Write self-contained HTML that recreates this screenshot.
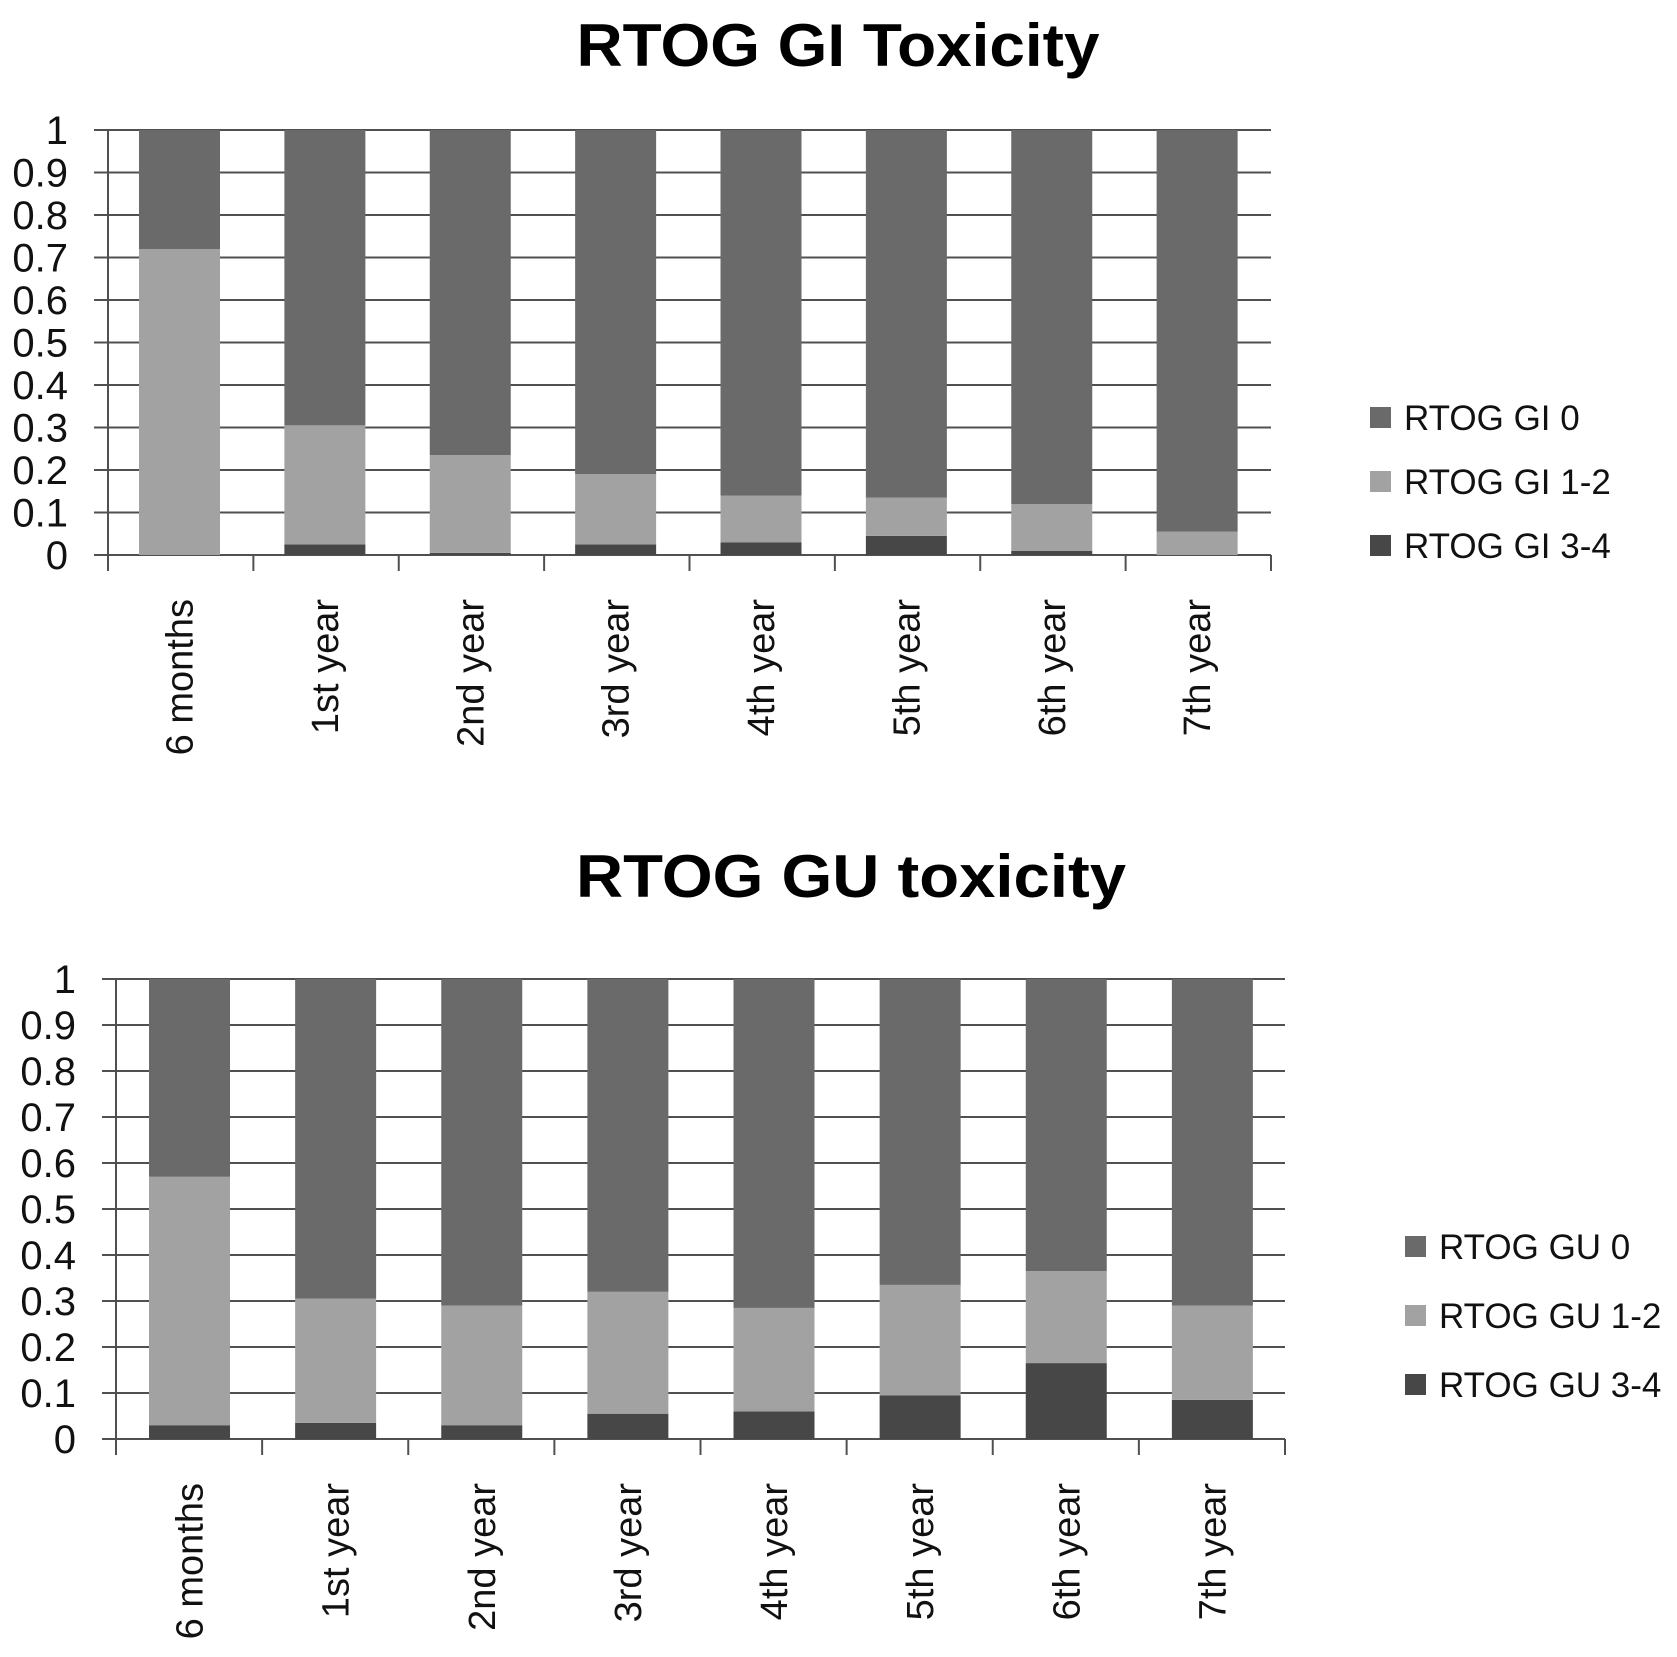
<!DOCTYPE html>
<html><head><meta charset="utf-8"><style>
body{margin:0;background:#fff;}
svg{display:block;font-family:"Liberation Sans",sans-serif;}
</style></head><body>
<svg id="svg" width="1677" height="1657" viewBox="0 0 1677 1657">
<text x="838" y="66" text-anchor="middle" font-size="60" font-weight="bold" textLength="523" lengthAdjust="spacingAndGlyphs">RTOG GI Toxicity</text>
<text x="851" y="897" text-anchor="middle" font-size="60" font-weight="bold" textLength="550" lengthAdjust="spacingAndGlyphs">RTOG GU toxicity</text>
</svg>
<script>
const categories = ["6 months","1st year","2nd year","3rd year","4th year","5th year","6th year","7th year"];
const yTicks = [0,0.1,0.2,0.3,0.4,0.5,0.6,0.7,0.8,0.9,1];
const yTickLabels = ["0","0.1","0.2","0.3","0.4","0.5","0.6","0.7","0.8","0.9","1"];
const gi34 = [0,0.025,0.005,0.025,0.03,0.045,0.01,0];
const gi12 = [0.72,0.28,0.23,0.165,0.11,0.09,0.11,0.055];
const gu34 = [0.03,0.035,0.03,0.055,0.06,0.095,0.165,0.085];
const gu12 = [0.54,0.27,0.26,0.265,0.225,0.24,0.2,0.205];
const giNames = ["RTOG GI 0","RTOG GI 1-2","RTOG GI 3-4"];
const guNames = ["RTOG GU 0","RTOG GU 1-2","RTOG GU 3-4"];

const NS="http://www.w3.org/2000/svg";
const svg=document.getElementById('svg');
const C0="#6a6a6a",C12="#a2a2a2",C34="#474747",GRID="#505050";
function mk(tag,attrs,parent){const e=document.createElementNS(NS,tag);for(const k in attrs)e.setAttribute(k,attrs[k]);(parent||svg).appendChild(e);return e;}

function drawChart(cfg,s34,s12,names,prefix){
  const g=mk('g',{});
  
  
  const step=(cfg.right-cfg.left)/categories.length;
  const y=v=>cfg.zero-(cfg.zero-cfg.top)*v;
  const x=i=>cfg.left+i*step;
  yTicks.forEach((t,i)=>{
    const l=mk('line',{x1:cfg.left-14,x2:cfg.right,y1:y(t),y2:y(t),stroke:GRID,'stroke-width':2},g);
    
    
    const tx=mk('text',{x:cfg.left-40,y:y(t)+14,'text-anchor':'end','font-size':40,fill:'#111'},g);
    tx.textContent=yTickLabels[i];
    
    
  });
  const ax=mk('line',{x1:cfg.left,x2:cfg.left,y1:cfg.top,y2:cfg.zero+16,stroke:GRID,'stroke-width':2},g);
  
  
  for(let i=1;i<=categories.length;i++){
    const tk=mk('line',{x1:x(i),x2:x(i),y1:cfg.zero,y2:cfg.zero+16,stroke:GRID,'stroke-width':2},g);
    
    
  }
  categories.forEach((c,i)=>{
    const bx=x(i)+cfg.off, bw=cfg.bw;
    const v34=s34[i], v12=s12[i];
    const segs=[[0,v34,C34,'grade-3-4'],[v34,v34+v12,C12,'grade-1-2'],[v34+v12,1,C0,'grade-0']];
    segs.forEach(sg=>{
      if(sg[1]-sg[0]<=0) return;
      const r=mk('rect',{x:bx,y:y(sg[1]),width:bw,height:y(sg[0])-y(sg[1]),fill:sg[2]},g);
      
      
    });
    const cx=bx+bw/2+13;
    const t=mk('text',{x:cx,y:cfg.zero+44,'text-anchor':'end','font-size':38,fill:'#111',transform:`rotate(-90 ${cx} ${cfg.zero+44})`},g);
    t.textContent=c;
    
    
  });
  const cols=[C0,C12,C34];
  names.forEach((n,i)=>{
    const sq=mk('rect',{x:cfg.lx,y:cfg.ly+i*cfg.lstep,width:21,height:21,fill:cols[i]},g);
    
    
    const t=mk('text',{x:cfg.lx+34,y:cfg.ly+i*cfg.lstep+23,'font-size':35,fill:'#111'},g);
    t.textContent=n;
    
    
  });
}
drawChart({left:108,right:1271,top:130,zero:555,off:31,bw:81,lx:1370,ly:407,lstep:64},gi34,gi12,giNames,'gi');
drawChart({left:116,right:1285,top:979,zero:1439,off:33,bw:81,lx:1405,ly:1236,lstep:69},gu34,gu12,guNames,'gu');
</script>
</body></html>
